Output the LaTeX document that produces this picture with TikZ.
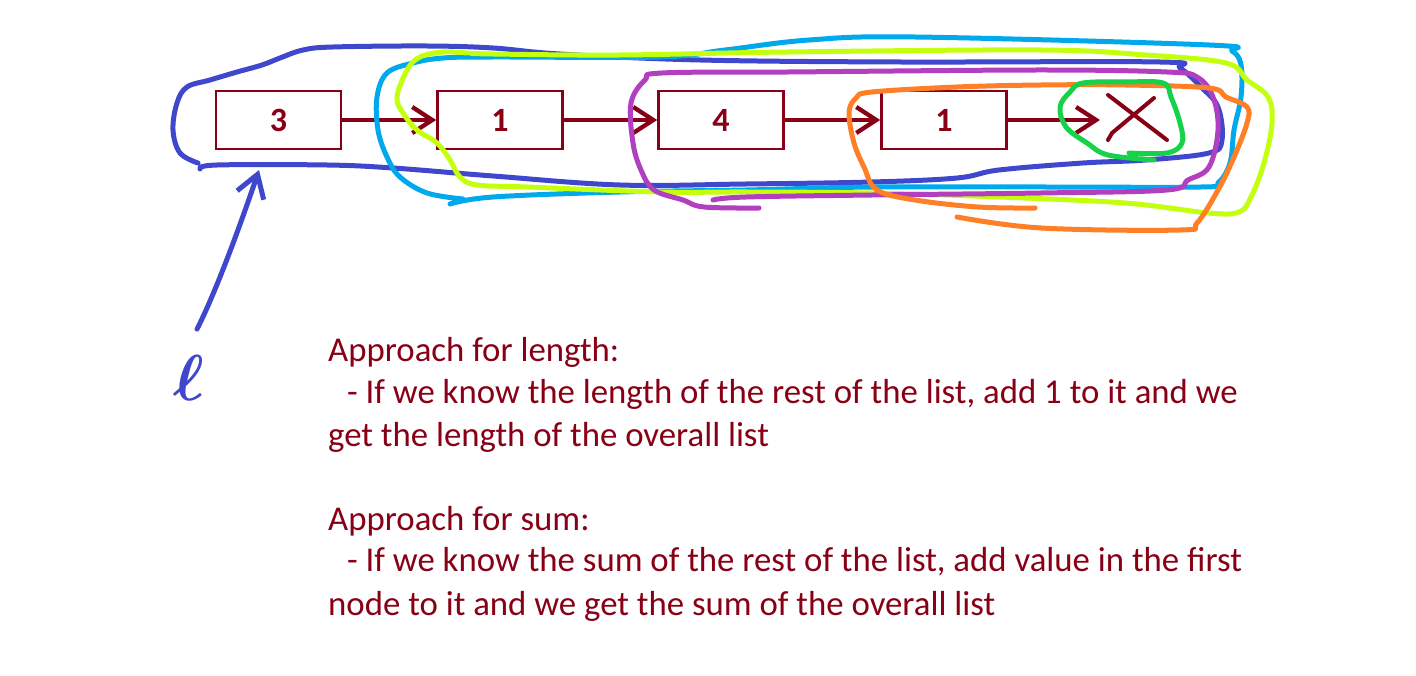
\documentclass[tikz,border=0pt]{standalone}
\usepackage{fontspec}
\setmainfont{Carlito}
\usetikzlibrary{arrows.meta,positioning,calc}
\definecolor{listred}{HTML}{880015}
\definecolor{inkblue}{HTML}{3F48CC}
\definecolor{inkcyan}{HTML}{00A8EC}
\definecolor{inklime}{HTML}{C4FF0E}
\definecolor{inkpurple}{HTML}{B23FBF}
\definecolor{inkorange}{HTML}{FF7F27}
\definecolor{inkgreen}{HTML}{16D14A}

\begin{document}
\begin{tikzpicture}[x=1pt,y=-1pt,
  cell/.style={draw=listred,line width=2.6pt,minimum width=125pt,minimum height=58pt,inner sep=0pt,text=listred,font=\fontsize{34}{34}\selectfont\bfseries},
  link/.style={draw=listred,line width=4.3pt,-{Straight Barb[length=20pt,width=26pt]}},
  pen/.style={draw=#1,line width=5pt,line cap=round,line join=round},
  note/.style={anchor=base west,inner sep=0pt,text=listred,font=\fontsize{34.8}{40}\selectfont}]
\useasboundingbox (0,0) rectangle (1416,676);
% the list
\foreach \i/\x/\v in {1/278.5/3, 2/500/1, 3/721/4, 4/944/1}
  \node[cell] (n\i) at (\x,120) {\v};
\coordinate (nil) at (1100,120);
\foreach \a/\b in {n1/n2, n2/n3, n3/n4, n4/nil}
  \draw[link] (\a) -- (\b);
\draw[pen=listred,line width=4pt] (1108,95) -- (1167,140);
\draw[pen=listred,line width=4pt] (1154,98) -- (1112,133) -- (1108,140);
% sublists circled by hand
\draw[pen=inkblue] plot[smooth,tension=0.6] coordinates {(198,163) (180,153) (173,130) (177,103) (187,87) (210,80) (237,72) (262,65) (280,58) (303,50) (333,47) (427,46) (493,48) (560,54) (700,60) (900,62) (1160,62) (1180,68) (1201,87) (1218,107) (1222,140) (1209,153) (1146,160) (1083,163) (999,170) (957,178) (872,182) (746,184) (620,185) (493,176) (393,168) (327,165) (217,165) (200,169)};
\draw[pen=inkcyan] plot[smooth,tension=0.6] coordinates {(463,199) (427,193) (400,177) (387,157) (378,130) (377,97) (387,73) (413,63) (443,58) (493,57) (660,57) (725,50) (809,40) (915,37) (1209,45) (1232,51) (1241,65) (1241,97) (1234,130) (1230,163) (1218,183) (1201,187) (1041,187) (872,187) (746,190) (620,192) (493,197) (450,204)};
\draw[pen=inklime] plot[smooth,tension=0.6] coordinates {(467,53) (443,52) (420,57) (407,70) (397,97) (403,113) (417,130) (437,143) (450,160) (460,177) (477,185) (527,187) (660,192) (746,192) (872,193) (999,197) (1125,203) (1209,213) (1239,212) (1251,197) (1264,163) (1272,123) (1268,97) (1247,80) (1226,63) (1146,55) (1041,50) (788,52) (620,55) (493,54) (470,53)};
\draw[pen=inkpurple] plot[smooth,tension=0.6] coordinates {(759,208) (704,207) (683,200) (654,190) (641,170) (633,143) (631,103) (645,80) (662,73) (788,72) (1041,70) (1167,72) (1197,77) (1213,97) (1218,130) (1209,167) (1188,180) (1167,190) (1041,193) (872,195) (746,197) (713,200)};
\draw[pen=inkorange] plot[smooth,tension=0.6] coordinates {(957,217) (1041,228) (1180,230) (1197,223) (1218,190) (1234,157) (1247,123) (1247,107) (1226,97) (1209,88) (1125,85) (1041,85) (957,87) (872,92) (856,98) (849,113) (854,143) (864,167) (877,190) (915,200) (978,207) (1035,208)};
\draw[pen=inkgreen] plot[smooth,tension=0.6] coordinates {(1129,153) (1167,153) (1182,143) (1180,123) (1171,97) (1163,83) (1125,82) (1083,83) (1070,92) (1060,107) (1066,127) (1087,143) (1108,155) (1154,160)};
% pointer l
\node[text=inkblue,inner sep=0pt,scale=6.5,font=\boldmath] (lvar) at (189,378) {$\ell$};
\coordinate (lptr) at (259,170);
\draw[pen=inkblue,-{Straight Barb[length=22pt,width=28pt]}] ($(lvar.north)+(8,-25)$) .. controls (214,296) and (238,232) .. (lptr);
% notes
\foreach \i/\x/\y/\t in {1/328/361.7/{Approach for length:},
    2/347/403/{- If we know the length of the rest of the list, add 1 to it and we},
    3/328/446.7/{get the length of the overall list},
    4/328/530/{Approach for sum:},
    5/347/571.7/{- If we know the sum of the rest of the list, add value in the first},
    6/328/615/{node to it and we get the sum of the overall list}}
  \node[note] (txt\i) at (\x,\y) {\t};
\end{tikzpicture}
\end{document}
